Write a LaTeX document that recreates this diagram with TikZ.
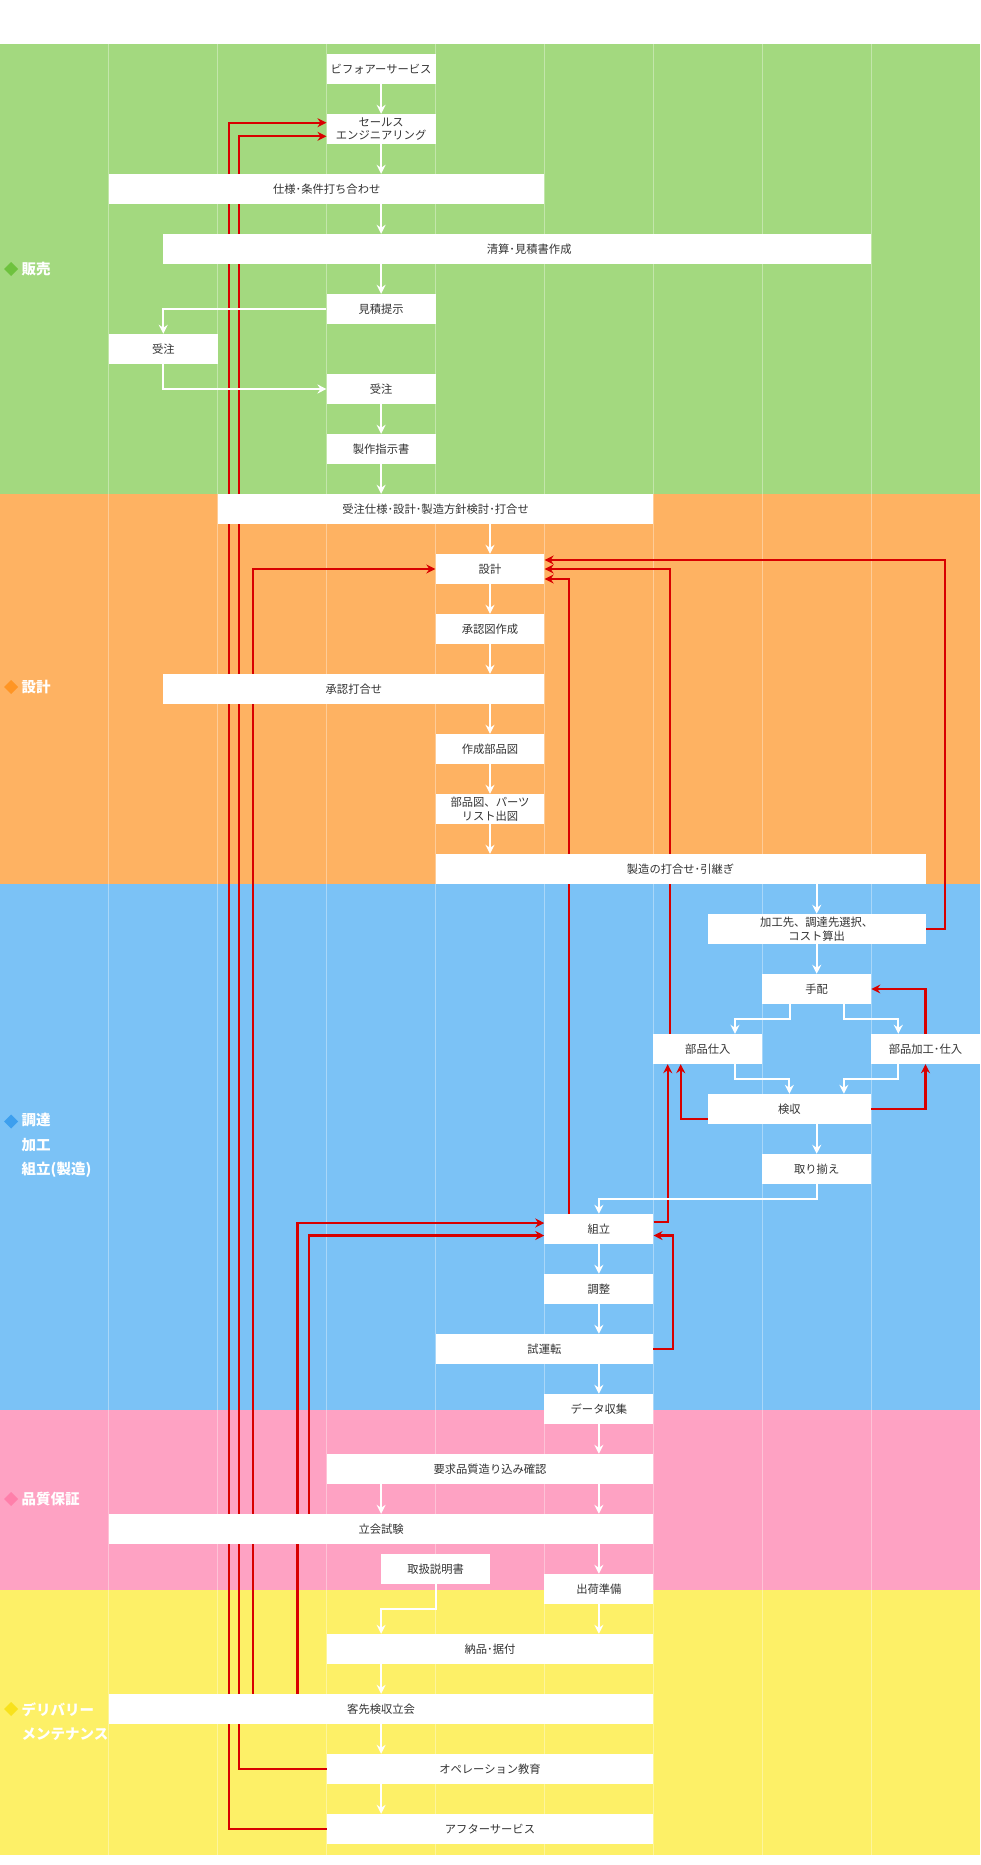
\documentclass[tikz,border=0pt]{standalone}
\usepackage{fontspec}
\setmainfont{Noto Sans CJK JP}
\usetikzlibrary{arrows.meta,calc}
\definecolor{bgGreen}{HTML}{A3D97F}
\definecolor{bgOrange}{HTML}{FEB262}
\definecolor{bgBlue}{HTML}{7BC2F6}
\definecolor{bgPink}{HTML}{FEA2C3}
\definecolor{bgYellow}{HTML}{FDF067}
\definecolor{dGreen}{HTML}{6EC23E}
\definecolor{dOrange}{HTML}{FF9524}
\definecolor{dBlue}{HTML}{3D9FEE}
\definecolor{dPink}{HTML}{FF7FAA}
\definecolor{dYellow}{HTML}{F8E21C}
\definecolor{redline}{HTML}{D80000}
\definecolor{txtgray}{HTML}{333333}
\pgfdeclarelayer{bg}
\pgfdeclarelayer{mid}
\pgfsetlayers{bg,mid,main}
\begin{document}
\begin{tikzpicture}[x=1pt,y=-1pt,
  box/.style={fill=white, draw=none, minimum height=30pt, inner sep=0pt, text=txtgray,
    font=\fontsize{11.3}{13.5}\selectfont, align=center},
  lbl/.style={text=white, inner sep=0pt, anchor=west, align=left,
    font=\bfseries\fontsize{14.5}{24.5}\selectfont},
  warrow/.style={draw=white, line width=2pt, -{Stealth[length=9pt,width=9pt,inset=3pt]}},
  rarrow/.style={draw=redline, line width=2.3pt, -{Stealth[length=9pt,width=9pt,inset=3pt]}},
  colline/.style={draw=white, draw opacity=0.35, line width=1pt}]
\useasboundingbox (0,0) rectangle (980,1865);
\begin{pgfonlayer}{bg}
\fill[white] (0,0) rectangle (980,1865);
% bands
\fill[bgGreen]  (0,44)   rectangle (980,494);
\fill[bgOrange] (0,494)  rectangle (980,884);
\fill[bgBlue]   (0,884)  rectangle (980,1410);
\fill[bgPink]   (0,1410) rectangle (980,1590);
\fill[bgYellow] (0,1590) rectangle (980,1855);
% column lines
\foreach \k in {1,...,8} {\draw[colline] (108.89*\k,44) -- (108.89*\k,1855);}
\end{pgfonlayer}
% band labels
\fill[dGreen]  (4.2,269) -- (11.2,262) -- (18.2,269) -- (11.2,276) -- cycle;
\node[lbl] (lab1) at (21.5,269) {販売};
\fill[dOrange] (4.2,687) -- (11.2,680) -- (18.2,687) -- (11.2,694) -- cycle;
\node[lbl] (lab2) at (21.5,687) {設計};
\fill[dBlue]   (4.2,1121.5) -- (11.2,1114.5) -- (18.2,1121.5) -- (11.2,1128.5) -- cycle;
\node[lbl] (lab3) at (21.5,1145.5) {調達\\加工\\組立(製造)};
\fill[dPink]   (4.2,1499) -- (11.2,1492) -- (18.2,1499) -- (11.2,1506) -- cycle;
\node[lbl] (lab4) at (21.5,1499) {品質保証};
\fill[dYellow] (4.2,1709) -- (11.2,1702) -- (18.2,1709) -- (11.2,1716) -- cycle;
\node[lbl] (lab5) at (21.5,1721.5) {デリバリー\\メンテナンス};
% column centre coordinate
\coordinate (X3) at (381.1,0);
% boxes (nodes)
\path
 node[box, minimum width=108.9pt] (bef) at (381.1,69) {ビフォアーサービス}
 node[box, minimum width=108.9pt] (sales) at (381.1,129) {セールス\\エンジニアリング}
 node[box, minimum width=435.5pt] (shiyo) at (326.7,189) {仕様･条件打ち合わせ}
 node[box, minimum width=707.8pt] (seisan) at (517.2,249) {\hspace*{24pt}清算･見積書作成}
 node[box, minimum width=108.9pt] (mitsumori) at (381.1,309) {見積提示}
 node[box, minimum width=108.9pt] (juchuL) at (163.3,349) {受注}
 node[box, minimum width=108.9pt] (juchuR) at (381.1,389) {受注}
 node[box, minimum width=108.9pt] (seisaku) at (381.1,449) {製作指示書}
 node[box, minimum width=435.5pt] (juchuShiyo) at (435.6,509) {受注仕様･設計･製造方針検討･打合せ}
 node[box, minimum width=108.9pt] (sekkei) at (490,569) {設計}
 node[box, minimum width=108.9pt] (shoninzu) at (490,629) {承認図作成}
 node[box, minimum width=381.1pt] (shoninuchi) at (353.9,689) {承認打合せ}
 node[box, minimum width=108.9pt] (sakusei) at (490,749) {作成部品図}
 node[box, minimum width=108.9pt] (buhinzu) at (490,809) {部品図、パーツ\\リスト出図}
 node[box, minimum width=489.9pt] (seizouUchi) at (680.6,869) {製造の打合せ･引継ぎ}
 node[box, minimum width=217.7pt] (kakousaki) at (816.7,929) {加工先、調達先選択、\\コスト算出}
 node[box, minimum width=108.9pt] (tehai) at (816.7,989) {手配}
 node[box, minimum width=108.9pt] (buhinShiire) at (707.8,1049) {部品仕入}
 node[box, minimum width=108.9pt] (buhinKakou) at (925.5,1049) {部品加工･仕入}
 node[box, minimum width=163.3pt] (kenshu) at (789.4,1109) {検収}
 node[box, minimum width=108.9pt] (torisoroe) at (816.7,1169) {取り揃え}
 node[box, minimum width=108.9pt] (kumitate) at (598.9,1229) {組立}
 node[box, minimum width=108.9pt] (chousei) at (598.9,1289) {調整}
 node[box, minimum width=217.7pt] (shiunten) at (544.4,1349) {試運転}
 node[box, minimum width=108.9pt] (data) at (598.9,1409) {データ収集}
 node[box, minimum width=326.6pt] (youkyu) at (490,1469) {要求品質造り込み確認}
 node[box, minimum width=544.4pt] (tachiai) at (381.1,1529) {立会試験}
 node[box, minimum width=108.9pt] (toriatsukai) at (435.6,1569) {取扱説明書}
 node[box, minimum width=108.9pt] (shukka) at (598.9,1589) {出荷準備}
 node[box, minimum width=326.6pt] (nouhin) at (490,1649) {納品･据付}
 node[box, minimum width=544.4pt] (kyakusaki) at (381.1,1709) {客先検収立会}
 node[box, minimum width=326.6pt] (operation) at (490,1769) {オペレーション教育}
 node[box, minimum width=326.6pt] (after) at (490,1829) {アフターサービス};
% red feedback lines (behind the boxes)
\begin{pgfonlayer}{mid}
\draw[rarrow] (after.west) -| (228.7,122.7) -- (sales.west |- 0,122.7);
\draw[rarrow] (operation.west) -| (238.7,136.3) -- (sales.west |- 0,136.3);
\draw[rarrow] (kyakusaki.north -| 252.7,0) |- (sekkei.west);
\draw[rarrow] (kyakusaki.north -| 297.5,0) |- (kumitate.west |- 0,1223);
\draw[rarrow] (tachiai.north -| 308.7,0) |- (kumitate.west |- 0,1235.5);
\draw[rarrow] (kakousaki.east) -| (945,560) -- (sekkei.east |- 0,560);
\draw[rarrow] (buhinShiire.north -| 670,0) |- (sekkei.east);
\draw[rarrow] (kumitate.north -| 568.7,0) |- (sekkei.east |- 0,579);
\draw[rarrow] (kumitate.east |- 0,1221.7) -| (buhinShiire.south -| 667.7,0);
\draw[rarrow] (shiunten.east) -| (672.7,1235.5) -- (kumitate.east |- 0,1235.5);
\draw[rarrow] (kenshu.west |- 0,1119) -| (buhinShiire.south -| 680.7,0);
\draw[rarrow] (kenshu.east) -| (buhinKakou.south);
\draw[rarrow] (buhinKakou.north) |- (tehai.east);
\end{pgfonlayer}
% white flow arrows
\draw[warrow] (bef.south) -- (sales.north);
\draw[warrow] (sales.south) -- (shiyo.north -| X3);
\draw[warrow] (shiyo.south -| X3) -- (seisan.north -| X3);
\draw[warrow] (seisan.south -| X3) -- (mitsumori.north);
\draw[warrow] (mitsumori.west) -| (juchuL.north);
\draw[warrow] (juchuL.south) |- (juchuR.west);
\draw[warrow] (juchuR.south) -- (seisaku.north);
\draw[warrow] (seisaku.south) -- (juchuShiyo.north -| X3);
\draw[warrow] (juchuShiyo.south -| sekkei) -- (sekkei.north);
\draw[warrow] (sekkei.south) -- (shoninzu.north);
\draw[warrow] (shoninzu.south) -- (shoninuchi.north -| shoninzu);
\draw[warrow] (shoninuchi.south -| sakusei) -- (sakusei.north);
\draw[warrow] (sakusei.south) -- (buhinzu.north);
\draw[warrow] (buhinzu.south) -- (seizouUchi.north -| buhinzu);
\draw[warrow] (seizouUchi.south -| kakousaki) -- (kakousaki.north);
\draw[warrow] (kakousaki.south) -- (tehai.north);
\draw[warrow] ($(tehai.south)+(-27.2,0)$) -- ++(0,14.5) -| ($(buhinShiire.north)+(27.2,0)$);
\draw[warrow] ($(tehai.south)+(27.2,0)$) -- ++(0,14.5) -| ($(buhinKakou.north)+(-27.2,0)$);
\draw[warrow] ($(buhinShiire.south)+(27.2,0)$) -- ++(0,15) -| (kenshu.north);
\draw[warrow] ($(buhinKakou.south)+(-27.2,0)$) -- ++(0,15) -| ($(kenshu.north)+(54.5,0)$);
\draw[warrow] (kenshu.south -| torisoroe) -- (torisoroe.north);
\draw[warrow] (torisoroe.south) -- ++(0,15) -| (kumitate.north);
\draw[warrow] (kumitate.south) -- (chousei.north);
\draw[warrow] (chousei.south) -- (shiunten.north -| chousei);
\draw[warrow] (shiunten.south -| data) -- (data.north);
\draw[warrow] (data.south) -- (youkyu.north -| data);
\draw[warrow] (youkyu.south -| X3) -- (tachiai.north -| X3);
\draw[warrow] (youkyu.south -| data) -- (tachiai.north -| data);
\draw[warrow] (tachiai.south -| shukka) -- (shukka.north);
\draw[warrow] (toriatsukai.south) -- ++(0,24.3) -| (nouhin.north -| X3);
\draw[warrow] (shukka.south) -- (nouhin.north -| shukka);
\draw[warrow] (nouhin.south -| X3) -- (kyakusaki.north -| X3);
\draw[warrow] (kyakusaki.south -| X3) -- (operation.north -| X3);
\draw[warrow] (operation.south -| X3) -- (after.north -| X3);
\end{tikzpicture}
\end{document}
